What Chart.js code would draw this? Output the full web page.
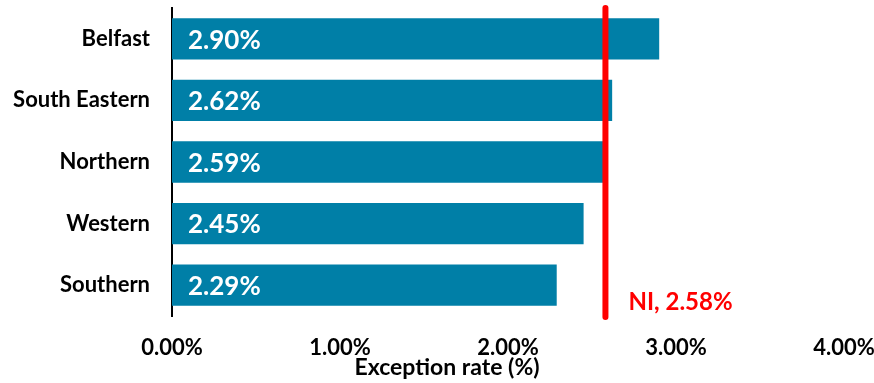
<!DOCTYPE html>
<html>
<head>
<meta charset="utf-8">
<script src="https://cdn.jsdelivr.net/npm/chart.js@4"></script>
<style>
  html, body { margin: 0; padding: 0; background: #fff; }
  #wrap { width: 874px; height: 383px; }
</style>
</head>
<body>
<div id="wrap"><canvas id="chart"></canvas></div>
<script>
const trusts = ['Belfast', 'South Eastern', 'Northern', 'Western', 'Southern'];
const exceptionRates = [2.90, 2.62, 2.59, 2.45, 2.29];
const niRate = 2.58;
const xTicks = [0, 1, 2, 3, 4];
const xTitle = 'Exception rate (%)';

const FONT = 'Lato, "Open Sans", sans-serif';

// draws the white value labels, the red NI line and the x title
// (title is offset to the left of the plot, like the original)
const overlay = {
  id: 'overlay',
  afterDatasetsDraw(chart) {
    const ctx = chart.ctx;
    const x = chart.scales.x;
    const area = chart.chartArea;
    const meta = chart.getDatasetMeta(0);

    ctx.save();
    ctx.fillStyle = '#ffffff';
    ctx.font = 'bold 26px ' + FONT;
    ctx.textAlign = 'left';
    ctx.textBaseline = 'middle';
    meta.data.forEach((bar, i) => {
      ctx.fillText(exceptionRates[i].toFixed(2) + '%', area.left + 16, bar.y + 1.5);
    });

    const lx = x.getPixelForValue(niRate);
    ctx.strokeStyle = '#ff0000';
    ctx.lineWidth = 6;
    ctx.lineCap = 'round';
    ctx.beginPath();
    ctx.moveTo(lx, area.top);
    ctx.lineTo(lx, area.bottom + 1);
    ctx.stroke();

    ctx.fillStyle = '#ff0000';
    ctx.font = 'bold 24px ' + FONT;
    ctx.fillText('NI, ' + niRate.toFixed(2) + '%', lx + 23, area.bottom - 14);

    ctx.fillStyle = '#000';
    ctx.font = 'bold 23px ' + FONT;
    ctx.textAlign = 'center';
    ctx.fillText(xTitle, 447, area.bottom + 52);
    ctx.restore();
  }
};

new Chart(document.getElementById('chart'), {
  type: 'bar',
  data: {
    labels: trusts,
    datasets: [{
      data: exceptionRates,
      backgroundColor: '#007fa7',
      borderWidth: 0,
      barPercentage: 0.67,
      categoryPercentage: 1
    }]
  },
  options: {
    indexAxis: 'y',
    responsive: true,
    maintainAspectRatio: false,
    animation: false,
    layout: { padding: { top: 8, right: 30, left: 0, bottom: 0 } },
    plugins: {
      legend: { display: false },
      tooltip: { enabled: false }
    },
    scales: {
      x: {
        min: 0,
        max: 4,
        afterBuildTicks(scale) {
          scale.ticks = xTicks.map(v => ({ value: v }));
        },
        afterFit(scale) {
          scale.height = 67;
          scale.paddingLeft = 0;
          scale.paddingRight = 0;
        },
        grid: { display: false, drawTicks: false },
        border: { display: false },
        ticks: {
          padding: 19,
          color: '#000',
          font: { family: FONT, size: 22, weight: 'bold' },
          maxRotation: 0,
          callback: v => v.toFixed(2) + '%'
        }
      },
      y: {
        afterFit(scale) {
          scale.width = 172;
          scale.paddingTop = 0;
          scale.paddingBottom = 0;
        },
        grid: { display: false, drawTicks: false },
        border: { display: true, color: '#000', width: 2 },
        ticks: {
          padding: 22,
          color: '#000',
          font: { family: FONT, size: 22, weight: 'bold' }
        }
      }
    }
  },
  plugins: [overlay]
});
</script>
</body>
</html>
